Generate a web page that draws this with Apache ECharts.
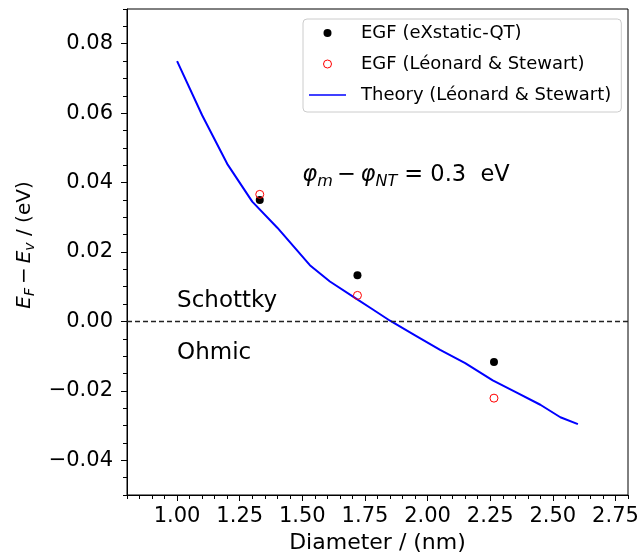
<!DOCTYPE html>
<html><head><meta charset="utf-8">
<script src="https://cdn.jsdelivr.net/npm/echarts@6/dist/echarts.min.js"></script>
<style>html,body{margin:0;padding:0;background:#fff}#c{width:639px;height:554px}</style>
</head><body><div id="c"></div>
<script>
// ---- data ----
const egfXstaticX = [1.33, 1.72, 2.265];
const egfXstaticY = [0.0350, 0.0133, -0.0117];
const egfLeonardX = [1.33, 1.72, 2.265];
const egfLeonardY = [0.0366, 0.0075, -0.0221];
const theoryX = [1.00, 1.10, 1.20, 1.30, 1.40, 1.53, 1.61, 1.71, 1.78, 1.85, 1.95, 2.05, 2.15, 2.26, 2.35, 2.45, 2.53, 2.60];
const theoryY = [0.0750, 0.0594, 0.0454, 0.0345, 0.0270, 0.0162, 0.0115, 0.0068, 0.0035, 0.0002, -0.0040, -0.0082, -0.0120, -0.0170, -0.0203, -0.0240, -0.0276, -0.0296];
const xTickLabels = [1.00, 1.25, 1.50, 1.75, 2.00, 2.25, 2.50, 2.75];
const yTickLabels = [-0.04, -0.02, 0.00, 0.02, 0.04, 0.06, 0.08];
const annotX = [1.0, 1.0, 1.5];
const annotY = [0.005, -0.01, 0.04];
const annotText = ['Schottky', 'Ohmic', '{i|\u03C6}{s|m}{n|\u2009\u2212\u2009}{i|\u03C6}{s|NT}{n| = 0.3  eV}'];
const seriesNames = ['EGF (eXstatic-QT)', 'EGF (L\u00E9onard & Stewart)', 'Theory (L\u00E9onard & Stewart)'];

// ---- helpers ----
const X_MIN = 0.8, X_MAX = 2.8, Y_MIN = -0.05, Y_MAX = 0.09;
const xMinor = []; for (let i = 0; i <= 40; i++) xMinor.push(+(X_MIN + i * 0.05).toFixed(2));
const yMinor = []; for (let i = 0; i <= 28; i++) yMinor.push(+(Y_MIN + i * 0.005).toFixed(3));
const FF = 'DejaVu Sans';
const fmt = v => (v < 0 ? '\u2212' : '') + Math.abs(v).toFixed(2);
const zip = (a, b) => a.map((v, i) => [v, b[i]]);
const annotOffsets = [[0, 8], [0, 8], [0, 9]];

const chart = echarts.init(document.getElementById('c'), null, {renderer: 'canvas'});
const baseAxis = {type: 'value', splitLine: {show: false}};
const noBorder = {textBorderWidth: 0, textBorderColor: 'transparent', textShadowBlur: 0, opacity: 1};
chart.setOption({
  animation: false,
  backgroundColor: '#fff',
  grid: {left: 127, right: 11, top: 9, bottom: 59, show: true, borderColor: '#000', borderWidth: 1,
         backgroundColor: 'transparent', outerBoundsMode: 'none', containLabel: false},
  xAxis: [
    Object.assign({}, baseAxis, {
      min: X_MIN, max: X_MAX, position: 'bottom',
      axisLine: {show: true, onZero: false, lineStyle: {color: '#000', width: 1}},
      axisTick: {show: true, length: 6, customValues: xTickLabels, lineStyle: {color: '#000', width: 1}},
      axisLabel: {customValues: xTickLabels, formatter: v => v.toFixed(2), fontSize: 21, fontFamily: FF, color: '#000', margin: 11},
      name: 'Diameter / (nm)', nameLocation: 'middle', nameGap: 36,
      nameTextStyle: {fontSize: 22, fontFamily: FF, color: '#000'}
    }),
    Object.assign({}, baseAxis, {
      min: X_MIN, max: X_MAX, position: 'bottom',
      axisLine: {show: false, onZero: false},
      axisTick: {show: true, length: 4, customValues: xMinor, lineStyle: {color: '#000', width: 1}},
      axisLabel: {show: false}
    })
  ],
  yAxis: [
    Object.assign({}, baseAxis, {
      min: Y_MIN, max: Y_MAX, position: 'left',
      axisLine: {show: true, onZero: false, lineStyle: {color: '#000', width: 1}},
      axisTick: {show: true, length: 6, customValues: yTickLabels, lineStyle: {color: '#000', width: 1}},
      axisLabel: {customValues: yTickLabels, formatter: fmt, fontSize: 21, fontFamily: FF, color: '#000', margin: 14},
      name: '{i|E}{s|F}{n|\u2009\u2212\u2009}{i|E}{s|v}{n| / (eV)}', nameLocation: 'middle', nameGap: 76, nameRotate: 90,
      nameTextStyle: {
        fontSize: 20, fontFamily: FF, color: '#000', padding: [0, 0, 0, 14],
        rich: {
          i: {fontSize: 20, fontFamily: FF, fontStyle: 'italic', color: '#000', verticalAlign: 'top', lineHeight: 24},
          s: {fontSize: 14, fontFamily: FF, fontStyle: 'italic', color: '#000', verticalAlign: 'top', lineHeight: 24, padding: [9, 0, 0, 0]},
          n: {fontSize: 20, fontFamily: FF, color: '#000', verticalAlign: 'top', lineHeight: 24}
        }
      }
    }),
    Object.assign({}, baseAxis, {
      min: Y_MIN, max: Y_MAX, position: 'left',
      axisLine: {show: false, onZero: false},
      axisTick: {show: true, length: 4, customValues: yMinor, lineStyle: {color: '#000', width: 1}},
      axisLabel: {show: false}
    })
  ],
  legend: {
    orient: 'vertical', left: 303, top: 19,
    data: [
      {name: seriesNames[0]},
      {name: seriesNames[1], itemStyle: {borderWidth: 1}},
      {name: seriesNames[2], icon: 'path://M0,0L0,0M0,3.2L37,3.2L37,4.8L0,4.8ZM0,8L0,8'}
    ],
    itemWidth: 37, itemHeight: 8, itemGap: 13,
    padding: [5, 10, 8, 6],
    borderColor: '#cccccc', borderWidth: 1, borderRadius: 4,
    backgroundColor: 'rgba(255,255,255,0.8)',
    textStyle: {fontSize: 18, fontFamily: FF, color: '#000', padding: [0, 0, 0, 10]}
  },
  series: [
    {
      name: seriesNames[2], type: 'line', data: zip(theoryX, theoryY),
      symbol: 'none', showSymbol: false, smooth: false,
      lineStyle: {color: '#0000ff', width: 2}, itemStyle: {color: '#0000ff'},
      markLine: {
        silent: true, symbol: ['none', 'none'], label: {show: false},
        lineStyle: {color: '#222', width: 1.3, type: [5, 3]},
        data: [{yAxis: 0}]
      },
      z: 2
    },
    {
      name: seriesNames[0], type: 'scatter', data: zip(egfXstaticX, egfXstaticY),
      symbol: 'circle', symbolSize: 8, itemStyle: {color: '#000', opacity: 1}, z: 3
    },
    {
      name: seriesNames[1], type: 'scatter', data: zip(egfLeonardX, egfLeonardY),
      symbol: 'circle', symbolSize: 8, itemStyle: {color: 'none', borderColor: '#ff0000', borderWidth: 1, opacity: 1}, z: 3
    },
    {
      name: 'annotations', type: 'scatter',
      data: zip(annotX, annotY).map((v, i) => ({value: v, label: {offset: annotOffsets[i]}})),
      symbolSize: 0, silent: true, z: 4, itemStyle: {color: '#000', opacity: 1},
      label: Object.assign({
        show: true, position: [0, 0], align: 'left', verticalAlign: 'bottom',
        formatter: p => annotText[p.dataIndex],
        fontSize: 23, fontFamily: FF, color: '#000',
        rich: {
          i: Object.assign({fontSize: 22.5, fontFamily: FF, fontStyle: 'italic', color: '#000', verticalAlign: 'top', lineHeight: 28}, noBorder),
          s: Object.assign({fontSize: 16, fontFamily: FF, fontStyle: 'italic', color: '#000', verticalAlign: 'top', lineHeight: 28, padding: [10, 0, 0, 0]}, noBorder),
          n: Object.assign({fontSize: 22.5, fontFamily: FF, color: '#000', verticalAlign: 'top', lineHeight: 28}, noBorder)
        }
      }, noBorder)
    }
  ]
});
</script>
</body></html>
